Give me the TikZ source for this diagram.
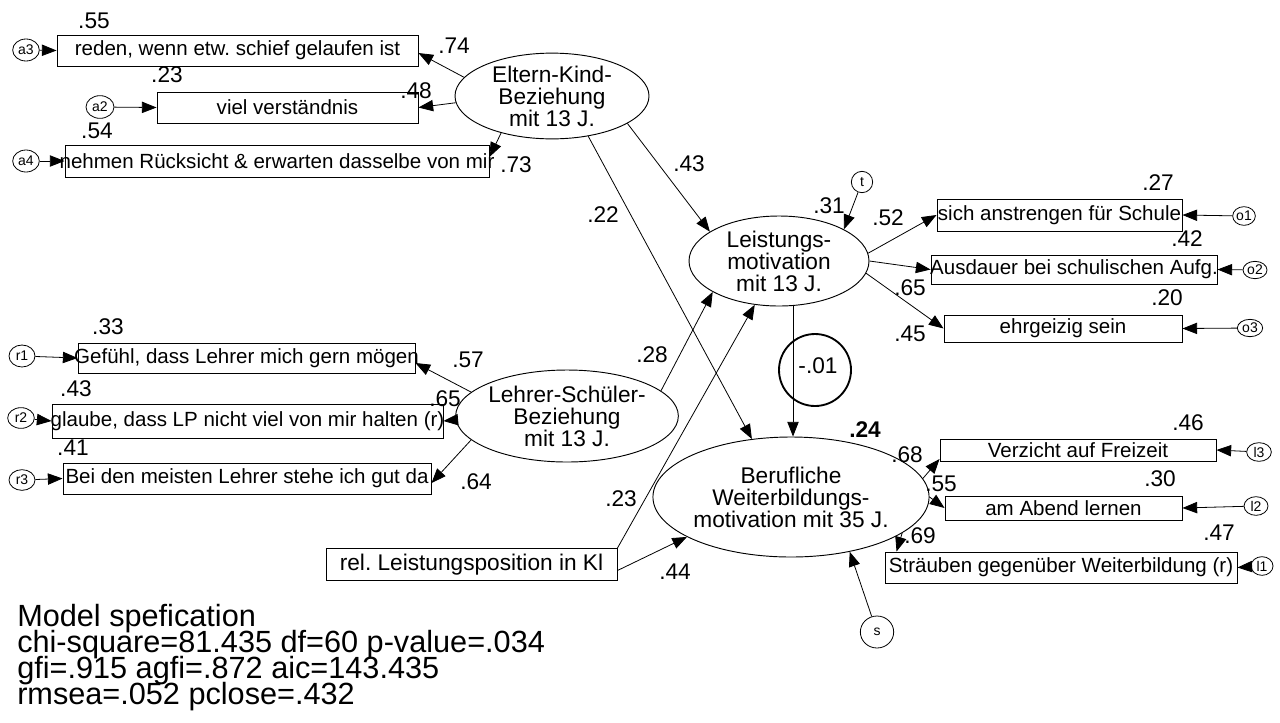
\documentclass[tikz,border=0pt]{standalone}
\usepackage{fontspec}
\setmainfont{Liberation Sans}
\usetikzlibrary{shapes.geometric,arrows.meta,calc}
\frenchspacing
\begin{document}
\begin{tikzpicture}[x=0.75pt,y=-0.75pt,
  obs/.style={draw, line width=0.7pt, rectangle, inner sep=0pt, font=\fontsize{15.4}{18}\selectfont},
  lat/.style={draw, line width=0.7pt, ellipse, inner sep=0pt, align=center, font=\fontsize{17}{16.5}\selectfont},
  err/.style={draw, line width=0.6pt, ellipse, inner sep=0pt, font=\fontsize{10.5}{12}\selectfont},
  coef/.style={inner sep=0pt, font=\fontsize{17}{20}\selectfont},
  spec/.style={anchor=base west, inner sep=0pt, font=\fontsize{23}{24}\selectfont},
  arr/.style={line width=0.6pt, -{Triangle[length=11pt,width=8.5pt]}},
]
\useasboundingbox (0,0) rectangle (1280,722);

% ---------- latent variables
\node[lat, minimum width=145.5pt, minimum height=61.5pt] (elt) at (552,96) {Eltern-Kind-\\Beziehung\\mit 13 J.};
\node[lat, minimum width=135pt, minimum height=67.5pt] (lei) at (779,261) {Leistungs-\\motivation\\mit 13 J.};
\node[lat, minimum width=154.5pt, minimum height=69pt] (leh) at (567,416) {Lehrer-Schüler-\\Beziehung\\mit 13 J.};
\node[lat, minimum width=177pt, minimum height=90pt] (ber) at (791,497) {Berufliche\\Weiterbildungs-\\motivation mit 35 J.};

% ---------- observed variables
\node[obs, minimum width=270.75pt, minimum height=23.25pt] (a3box) at (237.5,50.5) {\makebox[0pt]{reden, wenn etw. schief gelaufen ist}};
\node[obs, minimum width=195.75pt, minimum height=23.25pt] (a2box) at (287.5,107.5) {\makebox[0pt]{viel verständnis}};
\node[obs, minimum width=318pt, minimum height=24pt] (a4box) at (277,161) {\makebox[0pt]{nehmen Rücksicht \& erwarten dasselbe von mir}};
\node[obs, minimum width=252.75pt, minimum height=22.5pt] (r1box) at (246.5,358) {\makebox[0pt]{Gefühl, dass Lehrer mich gern mögen}};
\node[obs, minimum width=293.25pt, minimum height=25.5pt] (r2box) at (247.5,421) {\makebox[0pt]{glaube, dass LP nicht viel von mir halten (r)}};
\node[obs, minimum width=276pt, minimum height=23.25pt] (r3box) at (247,478.5) {\makebox[0pt]{Bei den meisten Lehrer stehe ich gut da}};
\node[obs, minimum width=183.75pt, minimum height=24pt] (o1box) at (1059.5,215) {\makebox[0pt]{sich anstrengen für Schule}};
\node[obs, minimum width=214.5pt, minimum height=21.75pt] (o2box) at (1074,269.5) {\makebox[0pt]{Ausdauer bei schulischen Aufg.}};
\node[obs, minimum width=178.5pt, minimum height=20.25pt] (o3box) at (1063,328.5) {\makebox[0pt]{ehrgeizig sein}};
\node[obs, minimum width=207pt, minimum height=16.5pt] (l3box) at (1078,450) {\makebox[0pt]{Verzicht auf Freizeit}};
\node[obs, minimum width=177.75pt, minimum height=18pt] (l2box) at (1063.5,508) {\makebox[0pt]{am Abend lernen}};
\node[obs, minimum width=264pt, minimum height=23.25pt] (l1box) at (1061,567.5) {\makebox[0pt]{Sträuben gegenüber Weiterbildung (r)}};
\node[obs, minimum width=218.25pt, minimum height=24pt, font=\fontsize{17}{20}\selectfont] (rel) at (471.5,564.5) {\makebox[0pt]{rel. Leistungsposition in Kl}};

% ---------- error terms
\node[err, minimum width=20pt, minimum height=16.5pt] (a3) at (26,50) {a3};
\node[err, minimum width=21pt, minimum height=17pt] (a2) at (100,107) {a2};
\node[err, minimum width=20pt, minimum height=16.5pt] (a4) at (26,161) {a4};
\node[err, minimum width=19.5pt, minimum height=16.5pt] (r1) at (22,356) {r1};
\node[err, minimum width=20pt, minimum height=15.5pt] (r2) at (21,418) {r2};
\node[err, minimum width=19.5pt, minimum height=15.5pt] (r3) at (22,480) {r3};
\node[err, minimum width=17pt, minimum height=14pt] (o1) at (1244,216) {o1};
\node[err, minimum width=18pt, minimum height=13pt] (o2) at (1255,270) {o2};
\node[err, minimum width=19pt, minimum height=13pt] (o3) at (1250,328) {o3};
\node[err, minimum width=18.5pt, minimum height=14pt] (l3) at (1259,452) {l3};
\node[err, minimum width=18pt, minimum height=14pt] (l2) at (1256,506) {l2};
\node[err, minimum width=16.5pt, minimum height=14pt] (l1) at (1262,566) {l1};
\node[err, minimum width=16pt, minimum height=16pt] (t) at (862,182) {t};
\node[err, minimum width=25pt, minimum height=24pt] (s) at (877,632) {s};

% ---------- correlation circle
\node[circle, draw, line width=1.4pt, minimum size=54pt, inner sep=0pt] (cc) at (815,370) {};
\node[coef] (cm) at (818,366) {-.01};

% ---------- connectors
\draw[arr] (a3) -- (a3box.west);
\draw[arr] (a2) -- (a2box.west);
\draw[arr] (a4) -- (a4box.west);
\draw[arr] (r1) -- (r1box.west);
\draw[arr] (r2) -- (r2box.west);
\draw[arr] (r3) -- (r3box.west);
\draw[arr] (o1) -- (o1box.east);
\draw[arr] (o2) -- (o2box.east);
\draw[arr] (o3) -- (o3box.east);
\draw[arr] (l3) -- (l3box.east);
\draw[arr] (l2) -- (l2box.east);
\draw[arr] (l1) -- (l1box.east);

\draw[arr] (elt.168) -- ([yshift=-1.9pt]a3box.east);
\draw[arr] (elt.184) -- (a2box.east);
\draw[arr] (elt.216) -- ([yshift=3pt]a4box.east);
\draw[arr] (elt.340) -- (lei.157);
\draw[arr] (elt.312) -- (ber.124);

\draw[arr] (leh.166) -- ([yshift=-3.75pt]r1box.east);
\draw[arr] (leh.182) -- (r2box.east);
\draw[arr] (leh.194) -- ([yshift=-3.4pt]r3box.east);
\draw[arr] (leh.15) -- (lei.205);

\draw[arr] (rel.north east) -- (lei.241);
\draw[arr] ([yshift=-4.5pt]rel.east) -- (ber.201);

\draw[arr] (t) -- (lei.26);
\draw[arr] (lei.5) -- (o1box.west);
\draw[arr] (lei.0) -- (o2box.west);
\draw[arr] (lei.352) -- (o3box.west);

\coordinate (cstart) at ($(lei.south)+(14,0)$);
\coordinate (cend) at (cstart |- ber.north);
\draw[arr] (cstart) -- (cend);

\draw[arr] (s) -- (ber.317);
\draw[arr] (ber.8) -- ([yshift=-6.75pt]l3box.west);
\draw[arr] (ber.0) -- (l2box.west);
\draw[arr] (ber.342) -- ([xshift=9pt]l1box.north west);

% ---------- coefficients
\node[coef] at (94,21) {.55};
\node[coef] at (454,46) {.74};
\node[coef] at (167,75) {.23};
\node[coef] at (416,91) {.48};
\node[coef] at (97,131) {.54};
\node[coef] at (516,165) {.73};
\node[coef] at (689,164) {.43};
\node[coef] at (603,215) {.22};
\node[coef] at (829,206) {.31};
\node[coef] at (888,218) {.52};
\node[coef] at (1158,183) {.27};
\node[coef] at (1187,239) {.42};
\node[coef] at (910,288) {.65};
\node[coef] at (1167,298) {.20};
\node[coef] at (910,334) {.45};
\node[coef] at (108,327) {.33};
\node[coef] at (468,360) {.57};
\node[coef] at (76,389) {.43};
\node[coef] at (445,399) {.65};
\node[coef] at (73,448) {.41};
\node[coef] at (652,355) {.28};
\node[coef] at (476,482) {.64};
\node[coef] at (621,499) {.23};
\node[coef, font=\fontsize{17}{20}\selectfont\bfseries] at (865,430) {.24};
\node[coef] at (1188,423) {.46};
\node[coef] at (907,455) {.68};
\node[coef] at (941,484) {.55};
\node[coef] at (1160,479) {.30};
\node[coef] at (920,536) {.69};
\node[coef] at (1219,533) {.47};
\node[coef] at (675,572) {.44};

% ---------- model specification
\node[spec] (s1) at (17,626) {Model spefication};
\node[spec] (s2) at (17,652) {chi-square=81.435 df=60 p-value=.034};
\node[spec] (s3) at (17,678) {gfi=.915 agfi=.872 aic=143.435};
\node[spec] (s4) at (17,704) {rmsea=.052 pclose=.432};
\end{tikzpicture}
\end{document}
